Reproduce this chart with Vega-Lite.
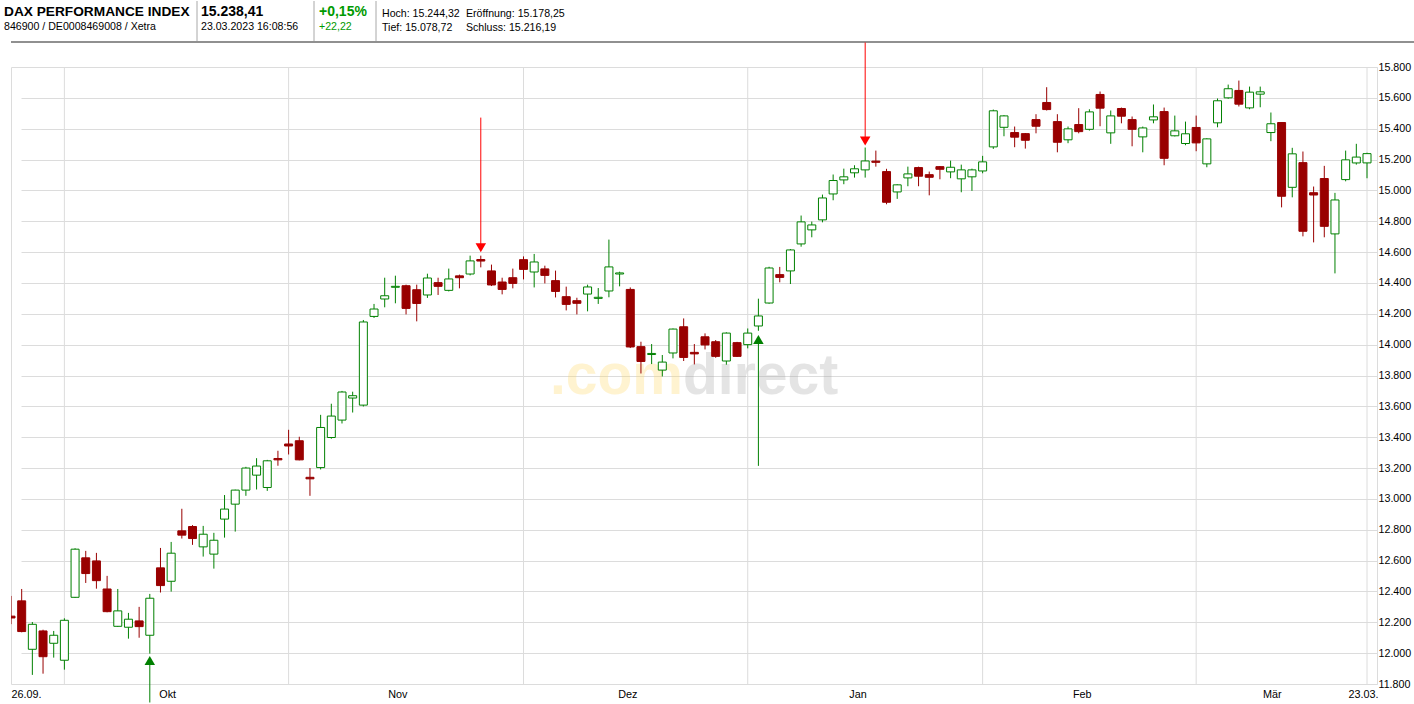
{
  "$schema": "https://vega.github.io/schema/vega-lite/v6.json",
  "background": "white",
  "padding": {"top": 0, "left": 0, "right": 0, "bottom": 0},
  "config": {
    "font": "Liberation Sans",
    "axis": {"labelFont": "Liberation Sans"},
    "title": {"font": "Liberation Sans", "subtitleFont": "Liberation Sans"}
  },
  "datasets": {
    "quotes": [
      {"d": "2022-09-26", "o": 12240, "h": 12371, "l": 12188, "c": 12228},
      {"d": "2022-09-27", "o": 12339, "h": 12416, "l": 12135, "c": 12140},
      {"d": "2022-09-28", "o": 12025, "h": 12202, "l": 11859, "c": 12187},
      {"d": "2022-09-29", "o": 12144, "h": 12152, "l": 11867, "c": 11977},
      {"d": "2022-09-30", "o": 12064, "h": 12144, "l": 11971, "c": 12116},
      {"d": "2022-10-03", "o": 11954, "h": 12226, "l": 11893, "c": 12213},
      {"d": "2022-10-04", "o": 12362, "h": 12680, "l": 12358, "c": 12674},
      {"d": "2022-10-05", "o": 12618, "h": 12663, "l": 12455, "c": 12516},
      {"d": "2022-10-06", "o": 12598, "h": 12650, "l": 12418, "c": 12470},
      {"d": "2022-10-07", "o": 12416, "h": 12501, "l": 12265, "c": 12269},
      {"d": "2022-10-10", "o": 12174, "h": 12416, "l": 12170, "c": 12274},
      {"d": "2022-10-11", "o": 12168, "h": 12261, "l": 12094, "c": 12220},
      {"d": "2022-10-12", "o": 12209, "h": 12300, "l": 12100, "c": 12172},
      {"d": "2022-10-13", "o": 12116, "h": 12384, "l": 11997, "c": 12356},
      {"d": "2022-10-14", "o": 12553, "h": 12682, "l": 12393, "c": 12438},
      {"d": "2022-10-17", "o": 12466, "h": 12721, "l": 12399, "c": 12648},
      {"d": "2022-10-18", "o": 12793, "h": 12936, "l": 12743, "c": 12765},
      {"d": "2022-10-19", "o": 12821, "h": 12830, "l": 12702, "c": 12743},
      {"d": "2022-10-20", "o": 12689, "h": 12825, "l": 12626, "c": 12771},
      {"d": "2022-10-21", "o": 12642, "h": 12780, "l": 12548, "c": 12732},
      {"d": "2022-10-24", "o": 12869, "h": 13025, "l": 12749, "c": 12934},
      {"d": "2022-10-25", "o": 12966, "h": 13060, "l": 12788, "c": 13057},
      {"d": "2022-10-26", "o": 13057, "h": 13208, "l": 13020, "c": 13200},
      {"d": "2022-10-27", "o": 13154, "h": 13264, "l": 13061, "c": 13213},
      {"d": "2022-10-28", "o": 13074, "h": 13253, "l": 13052, "c": 13247},
      {"d": "2022-10-31", "o": 13262, "h": 13312, "l": 13215, "c": 13253},
      {"d": "2022-11-01", "o": 13356, "h": 13448, "l": 13288, "c": 13343},
      {"d": "2022-11-02", "o": 13377, "h": 13403, "l": 13250, "c": 13253},
      {"d": "2022-11-03", "o": 13140, "h": 13200, "l": 13020, "c": 13130},
      {"d": "2022-11-04", "o": 13203, "h": 13545, "l": 13191, "c": 13463},
      {"d": "2022-11-07", "o": 13398, "h": 13617, "l": 13390, "c": 13537},
      {"d": "2022-11-08", "o": 13511, "h": 13700, "l": 13489, "c": 13693},
      {"d": "2022-11-09", "o": 13654, "h": 13695, "l": 13560, "c": 13669},
      {"d": "2022-11-10", "o": 13608, "h": 14160, "l": 13599, "c": 14147},
      {"d": "2022-11-11", "o": 14183, "h": 14264, "l": 14173, "c": 14231},
      {"d": "2022-11-14", "o": 14296, "h": 14434, "l": 14242, "c": 14317},
      {"d": "2022-11-15", "o": 14372, "h": 14447, "l": 14268, "c": 14378},
      {"d": "2022-11-16", "o": 14382, "h": 14389, "l": 14196, "c": 14235},
      {"d": "2022-11-17", "o": 14356, "h": 14389, "l": 14151, "c": 14267},
      {"d": "2022-11-18", "o": 14322, "h": 14460, "l": 14303, "c": 14432},
      {"d": "2022-11-21", "o": 14402, "h": 14434, "l": 14322, "c": 14378},
      {"d": "2022-11-22", "o": 14352, "h": 14493, "l": 14345, "c": 14426},
      {"d": "2022-11-23", "o": 14446, "h": 14454, "l": 14365, "c": 14434},
      {"d": "2022-11-24", "o": 14458, "h": 14577, "l": 14449, "c": 14543},
      {"d": "2022-11-25", "o": 14552, "h": 14577, "l": 14501, "c": 14542},
      {"d": "2022-11-28", "o": 14478, "h": 14519, "l": 14380, "c": 14387},
      {"d": "2022-11-29", "o": 14406, "h": 14434, "l": 14326, "c": 14358},
      {"d": "2022-11-30", "o": 14434, "h": 14493, "l": 14365, "c": 14397},
      {"d": "2022-12-01", "o": 14551, "h": 14572, "l": 14423, "c": 14488},
      {"d": "2022-12-02", "o": 14471, "h": 14588, "l": 14371, "c": 14536},
      {"d": "2022-12-05", "o": 14491, "h": 14512, "l": 14397, "c": 14449},
      {"d": "2022-12-06", "o": 14415, "h": 14480, "l": 14306, "c": 14345},
      {"d": "2022-12-07", "o": 14311, "h": 14376, "l": 14222, "c": 14261},
      {"d": "2022-12-08", "o": 14285, "h": 14304, "l": 14196, "c": 14268},
      {"d": "2022-12-09", "o": 14328, "h": 14389, "l": 14216, "c": 14374},
      {"d": "2022-12-12", "o": 14300, "h": 14367, "l": 14264, "c": 14307},
      {"d": "2022-12-13", "o": 14348, "h": 14681, "l": 14307, "c": 14504},
      {"d": "2022-12-14", "o": 14458, "h": 14473, "l": 14378, "c": 14465},
      {"d": "2022-12-15", "o": 14358, "h": 14371, "l": 13978, "c": 13985},
      {"d": "2022-12-16", "o": 13987, "h": 14019, "l": 13813, "c": 13891},
      {"d": "2022-12-19", "o": 13936, "h": 14004, "l": 13874, "c": 13943},
      {"d": "2022-12-20", "o": 13835, "h": 13933, "l": 13794, "c": 13887},
      {"d": "2022-12-21", "o": 13946, "h": 14105, "l": 13911, "c": 14101},
      {"d": "2022-12-22", "o": 14116, "h": 14170, "l": 13894, "c": 13917},
      {"d": "2022-12-23", "o": 13950, "h": 14004, "l": 13872, "c": 13940},
      {"d": "2022-12-27", "o": 14051, "h": 14073, "l": 13969, "c": 13998},
      {"d": "2022-12-28", "o": 14019, "h": 14030, "l": 13915, "c": 13924},
      {"d": "2022-12-29", "o": 13894, "h": 14080, "l": 13870, "c": 14075},
      {"d": "2022-12-30", "o": 14013, "h": 14018, "l": 13920, "c": 13924},
      {"d": "2023-01-02", "o": 14000, "h": 14105, "l": 13976, "c": 14075},
      {"d": "2023-01-03", "o": 14121, "h": 14298, "l": 14090, "c": 14186},
      {"d": "2023-01-04", "o": 14270, "h": 14505, "l": 14265, "c": 14497},
      {"d": "2023-01-05", "o": 14454, "h": 14504, "l": 14404, "c": 14436},
      {"d": "2023-01-06", "o": 14478, "h": 14620, "l": 14393, "c": 14614},
      {"d": "2023-01-09", "o": 14653, "h": 14837, "l": 14635, "c": 14796},
      {"d": "2023-01-10", "o": 14744, "h": 14798, "l": 14696, "c": 14776},
      {"d": "2023-01-11", "o": 14809, "h": 14973, "l": 14793, "c": 14951},
      {"d": "2023-01-12", "o": 14977, "h": 15103, "l": 14936, "c": 15064},
      {"d": "2023-01-13", "o": 15068, "h": 15141, "l": 15040, "c": 15088},
      {"d": "2023-01-16", "o": 15114, "h": 15163, "l": 15083, "c": 15140},
      {"d": "2023-01-17", "o": 15133, "h": 15278, "l": 15083, "c": 15191},
      {"d": "2023-01-18", "o": 15190, "h": 15258, "l": 15154, "c": 15182},
      {"d": "2023-01-19", "o": 15122, "h": 15140, "l": 14910, "c": 14923},
      {"d": "2023-01-20", "o": 14990, "h": 15040, "l": 14945, "c": 15036},
      {"d": "2023-01-23", "o": 15081, "h": 15154, "l": 15027, "c": 15107},
      {"d": "2023-01-24", "o": 15148, "h": 15154, "l": 15027, "c": 15092},
      {"d": "2023-01-25", "o": 15102, "h": 15122, "l": 14968, "c": 15085},
      {"d": "2023-01-26", "o": 15154, "h": 15158, "l": 15072, "c": 15137},
      {"d": "2023-01-27", "o": 15120, "h": 15193, "l": 15079, "c": 15150},
      {"d": "2023-01-30", "o": 15075, "h": 15167, "l": 14988, "c": 15133},
      {"d": "2023-01-31", "o": 15088, "h": 15141, "l": 14997, "c": 15133},
      {"d": "2023-02-01", "o": 15126, "h": 15224, "l": 15111, "c": 15185},
      {"d": "2023-02-02", "o": 15282, "h": 15524, "l": 15269, "c": 15516},
      {"d": "2023-02-03", "o": 15409, "h": 15488, "l": 15351, "c": 15483},
      {"d": "2023-02-06", "o": 15375, "h": 15414, "l": 15280, "c": 15345},
      {"d": "2023-02-07", "o": 15368, "h": 15372, "l": 15271, "c": 15325},
      {"d": "2023-02-08", "o": 15459, "h": 15494, "l": 15370, "c": 15416},
      {"d": "2023-02-09", "o": 15570, "h": 15669, "l": 15518, "c": 15524},
      {"d": "2023-02-10", "o": 15446, "h": 15494, "l": 15247, "c": 15312},
      {"d": "2023-02-13", "o": 15328, "h": 15414, "l": 15306, "c": 15399},
      {"d": "2023-02-14", "o": 15427, "h": 15533, "l": 15370, "c": 15381},
      {"d": "2023-02-15", "o": 15396, "h": 15526, "l": 15388, "c": 15509},
      {"d": "2023-02-16", "o": 15622, "h": 15641, "l": 15416, "c": 15533},
      {"d": "2023-02-17", "o": 15373, "h": 15518, "l": 15302, "c": 15483},
      {"d": "2023-02-20", "o": 15531, "h": 15537, "l": 15435, "c": 15481},
      {"d": "2023-02-21", "o": 15459, "h": 15479, "l": 15286, "c": 15396},
      {"d": "2023-02-22", "o": 15347, "h": 15414, "l": 15247, "c": 15405},
      {"d": "2023-02-23", "o": 15457, "h": 15557, "l": 15435, "c": 15477},
      {"d": "2023-02-24", "o": 15511, "h": 15537, "l": 15163, "c": 15208},
      {"d": "2023-02-27", "o": 15354, "h": 15485, "l": 15350, "c": 15386},
      {"d": "2023-02-28", "o": 15304, "h": 15446, "l": 15293, "c": 15367},
      {"d": "2023-03-01", "o": 15408, "h": 15485, "l": 15254, "c": 15308},
      {"d": "2023-03-02", "o": 15172, "h": 15338, "l": 15150, "c": 15334},
      {"d": "2023-03-03", "o": 15438, "h": 15596, "l": 15409, "c": 15581},
      {"d": "2023-03-06", "o": 15600, "h": 15686, "l": 15594, "c": 15659},
      {"d": "2023-03-07", "o": 15648, "h": 15712, "l": 15544, "c": 15559},
      {"d": "2023-03-08", "o": 15535, "h": 15673, "l": 15526, "c": 15637},
      {"d": "2023-03-09", "o": 15624, "h": 15673, "l": 15539, "c": 15639},
      {"d": "2023-03-10", "o": 15375, "h": 15505, "l": 15319, "c": 15432},
      {"d": "2023-03-13", "o": 15440, "h": 15442, "l": 14890, "c": 14962},
      {"d": "2023-03-14", "o": 15020, "h": 15276, "l": 14955, "c": 15237},
      {"d": "2023-03-15", "o": 15180, "h": 15252, "l": 14702, "c": 14735},
      {"d": "2023-03-16", "o": 14985, "h": 15025, "l": 14663, "c": 14970},
      {"d": "2023-03-17", "o": 15077, "h": 15159, "l": 14696, "c": 14767},
      {"d": "2023-03-20", "o": 14718, "h": 14984, "l": 14462, "c": 14938},
      {"d": "2023-03-21", "o": 15070, "h": 15258, "l": 15059, "c": 15198},
      {"d": "2023-03-22", "o": 15178, "h": 15302, "l": 15167, "c": 15216},
      {"d": "2023-03-23", "o": 15178.25, "h": 15244.32, "l": 15078.72, "c": 15238.41}
    ],
    "monthStarts": [
      {"d": "2022-10-03"}, {"d": "2022-11-01"}, {"d": "2022-12-01"},
      {"d": "2023-01-02"}, {"d": "2023-02-01"}, {"d": "2023-03-01"}, {"d": "2023-03-23"}
    ],
    "signals": [
      {"d": "2022-10-13", "signal": "Kauf", "tip": 11952, "end": 11680},
      {"d": "2022-11-25", "signal": "Verkauf", "tip": 14628, "end": 15472},
      {"d": "2023-01-03", "signal": "Kauf", "tip": 14033, "end": 13214},
      {"d": "2023-01-17", "signal": "Verkauf", "tip": 15320, "end": 15959}
    ]
  },
  "spacing": -2,
  "vconcat": [
    {
      "spacing": 0,
      "bounds": "flush",
      "hconcat": [
        {
          "width": 186, "height": 41,
          "view": {"stroke": null},
          "title": {"text": "DAX PERFORMANCE INDEX", "subtitle": "846900 / DE0008469008 / Xetra", "anchor": "start", "orient": "top", "frame": "group", "offset": -32.1, "dx": -7, "fontSize": 13.7, "fontWeight": "bold", "color": "#000000", "subtitleFontSize": 10.6, "subtitleColor": "#000000", "subtitlePadding": 3},
          "data": {"values": [{}]},
          "layer": [
            {"mark": {"type": "rule", "color": "#a8a8a8", "strokeWidth": 1}, "encoding": {"x": {"value": "width"}}},
            {"mark": {"type": "rule", "color": "#909090", "strokeWidth": 2}, "encoding": {"y": {"value": "height"}}}
          ]
        },
        {
          "width": 117, "height": 41,
          "view": {"stroke": null},
          "title": {"text": "15.238,41", "subtitle": "23.03.2023 16:08:56", "anchor": "start", "orient": "top", "frame": "group", "offset": -32.1, "dx": 4, "fontSize": 14, "fontWeight": "bold", "color": "#000000", "subtitleFontSize": 10.6, "subtitleColor": "#000000", "subtitlePadding": 3},
          "data": {"values": [{}]},
          "layer": [
            {"mark": {"type": "rule", "color": "#a8a8a8", "strokeWidth": 1}, "encoding": {"x": {"value": "width"}}},
            {"mark": {"type": "rule", "color": "#909090", "strokeWidth": 2}, "encoding": {"y": {"value": "height"}}}
          ]
        },
        {
          "width": 62, "height": 41,
          "view": {"stroke": null},
          "title": {"text": "+0,15%", "subtitle": "+22,22", "anchor": "start", "orient": "top", "frame": "group", "offset": -32.1, "dx": 5, "fontSize": 14, "fontWeight": "bold", "color": "#009a00", "subtitleFontSize": 10.6, "subtitleColor": "#009a00", "subtitlePadding": 3},
          "data": {"values": [{}]},
          "layer": [
            {"mark": {"type": "rule", "color": "#a8a8a8", "strokeWidth": 1}, "encoding": {"x": {"value": "width"}}},
            {"mark": {"type": "rule", "color": "#909090", "strokeWidth": 2}, "encoding": {"y": {"value": "height"}}}
          ]
        },
        {
          "width": 85, "height": 41,
          "view": {"stroke": null},
          "title": {"text": "Hoch: 15.244,32", "subtitle": "Tief: 15.078,72", "anchor": "start", "orient": "top", "frame": "group", "offset": -32.1, "dx": 6, "fontSize": 10.6, "fontWeight": "normal", "color": "#000000", "subtitleFontSize": 10.6, "subtitleColor": "#000000", "subtitlePadding": 3},
          "data": {"values": [{}]},
          "mark": {"type": "rule", "color": "#909090", "strokeWidth": 2},
          "encoding": {"y": {"value": "height"}}
        },
        {
          "width": 954, "height": 41,
          "view": {"stroke": null},
          "title": {"text": "Eröffnung: 15.178,25", "subtitle": "Schluss: 15.216,19", "anchor": "start", "orient": "top", "frame": "group", "offset": -32.1, "dx": 5, "fontSize": 10.6, "fontWeight": "normal", "color": "#000000", "subtitleFontSize": 10.6, "subtitleColor": "#000000", "subtitlePadding": 3},
          "data": {"values": [{}]},
          "mark": {"type": "rule", "color": "#909090", "strokeWidth": 2},
          "encoding": {"y": {"value": "height"}}
        }
      ]
    },
    {
      "width": 1366,
      "height": 617,
      "view": {"stroke": "#dcdcdc"},
      "layer": [
        {
          "data": {"values": [{"brand": ".com"}]},
          "mark": {"type": "text", "align": "right", "baseline": "alphabetic", "dx": -11, "dy": 18, "fontSize": 57, "fontWeight": "bold", "color": "#ffd966", "opacity": 0.3},
          "encoding": {"text": {"field": "brand"}}
        },
        {
          "data": {"values": [{"brand": "direct"}]},
          "mark": {"type": "text", "align": "left", "baseline": "alphabetic", "dx": -11, "dy": 18, "fontSize": 57, "fontWeight": "bold", "color": "#a0a0a0", "opacity": 0.28},
          "encoding": {"text": {"field": "brand"}}
        },
        {
          "encoding": {
            "x": {
              "field": "d", "type": "ordinal",
              "scale": {"type": "point", "padding": 0, "range": [0, 1356]},
              "axis": {
                "values": ["2022-09-26", "2022-10-17", "2022-11-15", "2022-12-15", "2023-01-16", "2023-02-14", "2023-03-10", "2023-03-23"],
                "labelExpr": "datum.value === '2022-09-26' ? '26.09.' : datum.value === '2022-10-17' ? 'Okt' : datum.value === '2022-11-15' ? 'Nov' : datum.value === '2022-12-15' ? 'Dez' : datum.value === '2023-01-16' ? 'Jan' : datum.value === '2023-02-14' ? 'Feb' : datum.value === '2023-03-10' ? 'Mär' : '23.03.'",
                "labelAlign": {"condition": {"test": "datum.value === '2022-09-26'", "value": "left"}, "value": "center"},
                "labelOffset": {"condition": [
                  {"test": "datum.value === '2023-03-23'", "value": -4},
                  {"test": "datum.value === '2022-10-17'", "value": -4},
                  {"test": "datum.value === '2022-12-15'", "value": -3},
                  {"test": "datum.value === '2022-11-15'", "value": 2},
                  {"test": "datum.value === '2023-01-16' || datum.value === '2023-02-14'", "value": 3},
                  {"test": "datum.value === '2023-03-10'", "value": 1}
                ], "value": 0},
                "labelAngle": 0, "labelPadding": 4, "labelFontSize": 10.8, "labelColor": "#000000",
                "labelFlush": false, "labelOverlap": false,
                "ticks": false, "domain": false, "grid": false, "title": null
              }
            }
          },
          "layer": [
            {
              "data": {"name": "monthStarts"},
              "mark": {"type": "rule", "color": "#dcdcdc", "strokeWidth": 1},
              "encoding": {}
            },
            {
              "data": {"name": "quotes"},
              "mark": {"type": "rule", "strokeWidth": 1, "clip": true},
              "encoding": {
                "y": {"field": "l", "type": "quantitative", "scale": {"domain": [11800, 15800], "nice": false, "zero": false},
                      "axis": {"orient": "left", "labels": false, "ticks": false, "domain": false, "grid": false, "title": null, "minExtent": 10, "maxExtent": 10}},
                "y2": {"field": "h"},
                "color": {"condition": {"test": "datum.c >= datum.o", "value": "#008000"}, "value": "#990000"}
              }
            },
            {
              "data": {"name": "quotes"},
              "mark": {"type": "bar", "size": 8, "strokeWidth": 1, "clip": true},
              "encoding": {
                "y": {"field": "o", "type": "quantitative", "scale": {"domain": [11800, 15800], "nice": false, "zero": false},
                      "axis": {"orient": "right", "values": [11800, 12000, 12200, 12400, 12600, 12800, 13000, 13200, 13400, 13600, 13800, 14000, 14200, 14400, 14600, 14800, 15000, 15200, 15400, 15600, 15800],
                               "labelExpr": "replace(format(datum.value, ',d'), ',', '.')",
                               "grid": true, "gridColor": "#dcdcdc", "ticks": false, "domain": false, "labelPadding": 1, "labelFontSize": 10.7, "labelColor": "#000000", "labelFlush": false, "labelOverlap": false, "title": null}},
                "y2": {"field": "c"},
                "fill": {"condition": {"test": "datum.c >= datum.o", "value": "#ffffff"}, "value": "#990000"},
                "stroke": {"condition": {"test": "datum.c >= datum.o", "value": "#008000"}, "value": "#990000"}
              }
            },
            {
              "data": {"name": "signals"},
              "mark": {"type": "rule", "strokeWidth": 1},
              "encoding": {
                "y": {"field": "tip", "type": "quantitative", "scale": {"domain": [11800, 15800], "nice": false, "zero": false}, "axis": null},
                "y2": {"field": "end"},
                "color": {"field": "signal", "type": "nominal", "scale": {"domain": ["Kauf", "Verkauf"], "range": ["#008000", "#ff0000"]}, "legend": null}
              }
            },
            {
              "data": {"name": "signals"},
              "mark": {"type": "point", "filled": true, "size": 110, "opacity": 1},
              "encoding": {
                "y": {"field": "tip", "type": "quantitative", "scale": {"domain": [11800, 15800], "nice": false, "zero": false}, "axis": null},
                "shape": {"field": "signal", "type": "nominal", "scale": {"domain": ["Kauf", "Verkauf"], "range": ["triangle-up", "triangle-down"]}, "legend": null},
                "color": {"field": "signal", "type": "nominal", "scale": {"domain": ["Kauf", "Verkauf"], "range": ["#008000", "#ff0000"]}, "legend": null}
              }
            }
          ],
          "resolve": {"axis": {"y": "independent"}}
        }
      ]
    }
  ]
}
